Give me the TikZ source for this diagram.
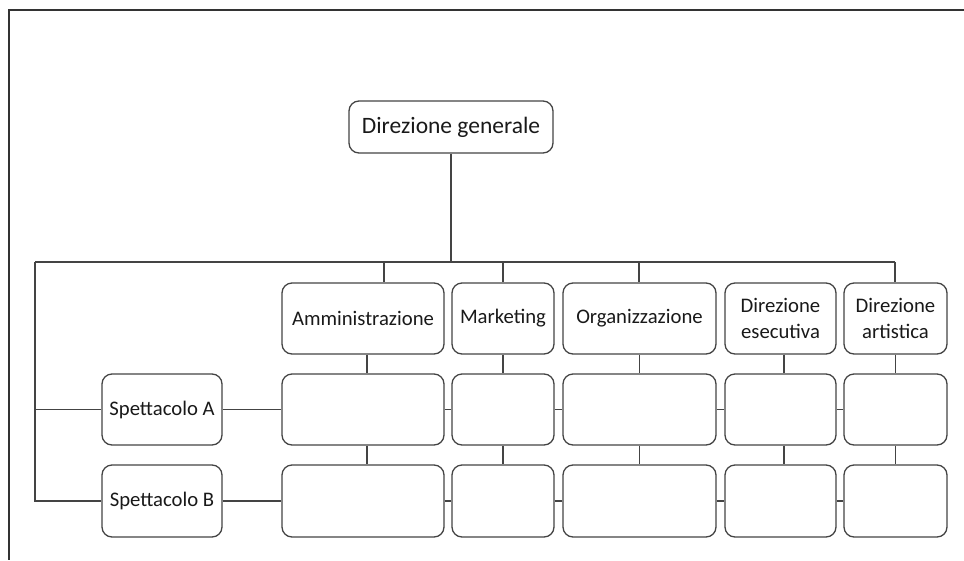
\documentclass[tikz,border=0pt]{standalone}
\usepackage{fontspec}
\setmainfont{Carlito}
\begin{document}
\begin{tikzpicture}[x=1pt,y=-1pt,
  box/.style={draw=linegray, line width=1.3pt, rounded corners=10pt, inner sep=0pt,
    align=center, text=black!90, font=\fontsize{20.7}{26}\selectfont},
  link/.style={draw=linegray, line width=1.3pt},
  frameline/.style={draw=black!80, line width=2pt}]
\definecolor{linegray}{HTML}{444444}
\useasboundingbox (0,0) rectangle (964,560);
% outer frame (top and left edges)
\draw[frameline] (8,9.5) -- (964,9.5);
\draw[frameline] (8.5,9) -- (8.5,560);

% top node
\node[box, minimum width=204, minimum height=52, font=\fontsize{23.5}{28}\selectfont]
  (dg) at (451,127) {Direzione generale};

% department headers
\node[box, minimum width=162, minimum height=71] (amm) at (363,318.5) {Amministrazione};
\node[box, minimum width=102, minimum height=71] (mkt) at (503,318.5) {Marketing};
\node[box, minimum width=153, minimum height=71] (org) at (639.5,318.5) {Organizzazione};
\node[box, minimum width=111, minimum height=71] (ese) at (780.5,318.5) {Direzione\\esecutiva};
\node[box, minimum width=103, minimum height=71] (art) at (895.5,318.5) {Direzione\\artistica};

% shows
\node[box, minimum width=120, minimum height=71] (spA) at (162,409.5) {Spettacolo A};
\node[box, minimum width=120, minimum height=72] (spB) at (162,501) {Spettacolo B};

% matrix cells
\foreach \n/\cx/\w in {1/363/162, 2/503/102, 3/639.5/153, 4/780.5/111, 5/895.5/103}{
  \node[box, minimum width=\w, minimum height=71] (a\n) at (\cx,409.5) {};
  \node[box, minimum width=\w, minimum height=72] (b\n) at (\cx,501) {};
}

% main bus
\coordinate (busL) at (35,262);
\coordinate (busR) at (895,262);
\coordinate (dgfoot) at (451,262);
\coordinate (dropA) at (384,262);
\coordinate (dropM) at (503,262);
\coordinate (dropO) at (639,262);
\draw[link] (dg.south) -- (dgfoot);
\draw[link] (busL) -- (busR);
\draw[link] (dropA) -- (dropA |- amm.north);
\draw[link] (dropM) -- (dropM |- mkt.north);
\draw[link] (dropO) -- (dropO |- org.north);
\draw[link] (busR) -- (busR |- art.north);

% left spine to the shows
\draw[link] (busL) |- (spB.west);
\draw[link] (busL |- spA.west) -- (spA.west);

% rows
\draw[link] (spA.east) -- (a1.west);
\draw[link] (spB.east) -- (b1.west);
\foreach \i/\j in {1/2, 2/3, 3/4, 4/5}{
  \draw[link] (a\i.east) -- (a\j.west);
  \draw[link] (b\i.east) -- (b\j.west);
}

% columns
\draw[link] ([xshift=4]amm.south) -- ([xshift=4]a1.north);
\draw[link] ([xshift=4]a1.south) -- ([xshift=4]b1.north);
\draw[link] (mkt.south) -- (a2.north);
\draw[link] (a2.south) -- (b2.north);
\draw[link] (org.south) -- (a3.north);
\draw[link] (a3.south) -- (b3.north);
\draw[link] ([xshift=3.5]ese.south) -- ([xshift=3.5]a4.north);
\draw[link] ([xshift=3.5]a4.south) -- ([xshift=3.5]b4.north);
\draw[link] (art.south) -- (a5.north);
\draw[link] (a5.south) -- (b5.north);
\end{tikzpicture}
\end{document}
